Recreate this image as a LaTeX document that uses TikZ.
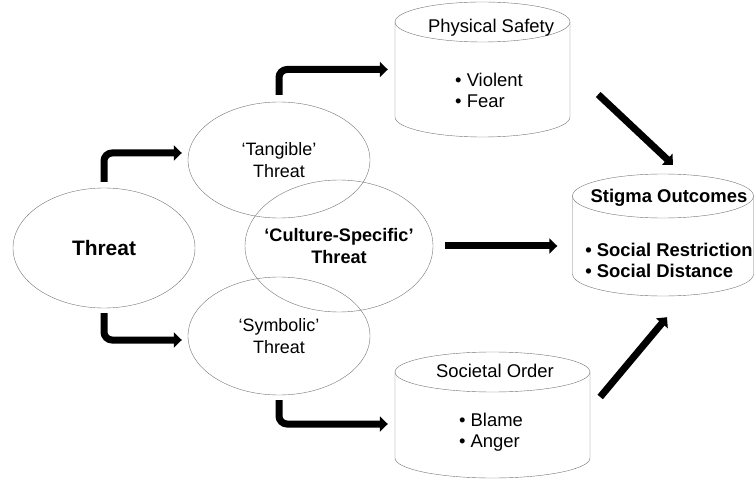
\documentclass[tikz,border=0pt]{standalone}
\usepackage{fontspec}
\setmainfont{Liberation Sans}
\usetikzlibrary{shapes.geometric, arrows.meta}
\tikzstyle{oval} = [ellipse, draw=black!55, thin, inner sep=0pt, align=center, font=\fontsize{18}{22}\selectfont]
\tikzstyle{drumline} = [draw=black!55, thin]
\tikzstyle{heading} = [font=\fontsize{18.5}{22}\selectfont]
\tikzstyle{items} = [align=left, font=\fontsize{18.5}{21}\selectfont]
\tikzstyle{arrow} = [line width=7bp, -{Triangle[length=8bp,width=15bp]}, rounded corners=8bp]
% name, centre x, centre y, x radius, half height, cap radius
\newcommand{\drumnode}[6]{%
  \node (#1) [rectangle, inner sep=0pt, minimum width={2*#4*1bp}, minimum height={2*#5*1bp}] at (#2,#3) {};
  \draw [drumline] (#2-#4,#3-#5+#6) -- (#2-#4,#3+#5-#6)
    .. controls (#2-#4,#3+#5-0.448*#6) and (#2-0.552*#4,#3+#5) .. (#2,#3+#5)
    .. controls (#2+0.552*#4,#3+#5) and (#2+#4,#3+#5-0.448*#6) .. (#2+#4,#3+#5-#6)
    -- (#2+#4,#3-#5+#6);
  \draw [drumline] (#2,#3-#5+#6) ellipse [x radius=#4bp, y radius=#6bp];
}

\begin{document}
\begin{tikzpicture}[x=1bp, y=-1bp]
        \useasboundingbox (0,0) rectangle (755,480);
        % threats
        \node (threat) [oval, minimum width=182bp, minimum height=120bp, font=\fontsize{21}{24}\selectfont\bfseries] at (104,248) {Threat};
        \node (tang) [oval, minimum width=182bp, minimum height=116bp] at (279,160) {‘Tangible’\\Threat};
        \node (symb) [oval, minimum width=182bp, minimum height=118bp] at (279,336) {‘Symbolic’\\Threat};
        \node (cult) [oval, inner xsep=-10bp, minimum width=188bp, minimum height=132bp, font=\fontsize{18.2}{22}\selectfont\bfseries] at (339,246) {‘Culture-Specific’\\Threat};
        % outcomes
        \drumnode{phys}{482.5}{69.5}{87.5}{67.5}{20}
        \node (physhead) [heading] at (491,28) {Physical Safety};
        \node (physlist) [items] at (489,90) {• Violent\\• Fear};
        \drumnode{soc}{492.5}{415}{97.5}{63}{20}
        \node (sochead) [heading] at (495,371) {Societal Order};
        \node (soclist) [items] at (491,432) {• Blame\\• Anger};
        \drumnode{stig}{663}{235}{90.5}{61}{22}
        \node (stighead) [heading, font=\fontsize{18.5}{22}\selectfont\bfseries] at (669,198) {Stigma Outcomes};
        \node (stiglist) [items, font=\fontsize{18.5}{21}\selectfont\bfseries] at (669,260) {• Social Restriction\\• Social Distance};
        % connectors
        \draw [arrow] ([yshift=6bp]threat.north) |- ([shift={(-6bp,7bp)}]tang.west);
        \draw [arrow] ([yshift=-5bp]threat.south) |- ([shift={(-6bp,-4bp)}]symb.west);
        \draw [arrow] ([yshift=7bp]tang.north) |- ([xshift=-7bp]phys.west);
        \draw [arrow] ([yshift=-5bp]symb.south) |- ([shift={(-7bp,-9bp)}]soc.west);
        \draw [arrow] ([xshift=12bp]cult.east) -- ([xshift=-15bp]stig.west |- cult.east);
        \draw [arrow] ([shift={(28bp,-25bp)}]phys.east) -- ([shift={(10bp,9bp)}]stig.north);
        \draw [arrow] ([shift={(10bp,18bp)}]soc.east) -- ([shift={(4bp,-21bp)}]stig.south);
    \end{tikzpicture}
\end{document}
